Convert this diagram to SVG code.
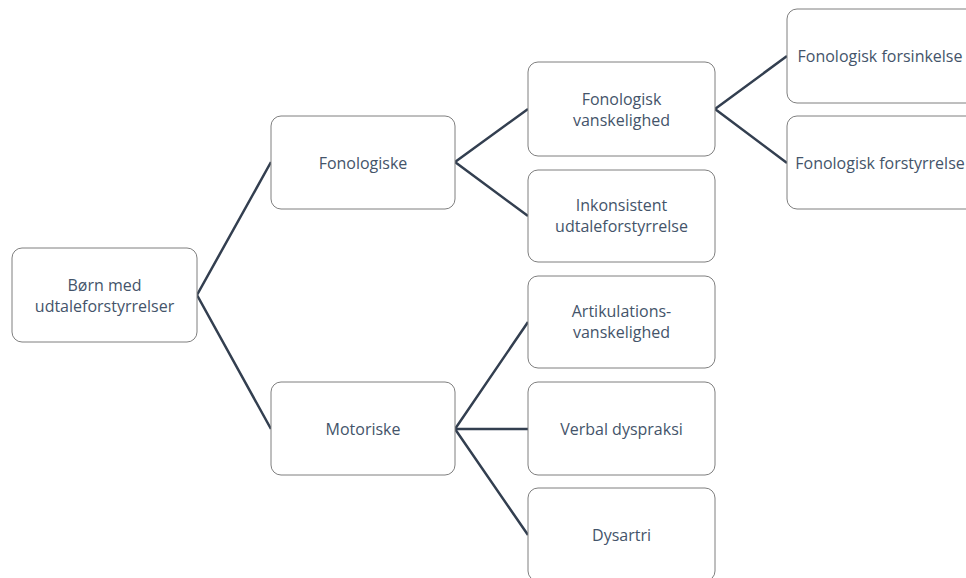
<svg xmlns="http://www.w3.org/2000/svg" width="966" height="578" viewBox="0 0 966 578">
<style>
.box{fill:#fff;stroke:#7f7f7f;stroke-width:1}
.t{font-family:"Open Sans","Noto Sans",sans-serif;font-size:16px;fill:#44546a;text-anchor:middle;dominant-baseline:central}
.c{fill:none;stroke:#333f50;stroke-width:2.5}
</style>
<rect width="966" height="578" fill="#fff"/>
<g id="connectors">
<polyline class="c" points="271,162 197,295 271,429"/>
<polyline class="c" points="528,109 455,162 528,216"/>
<polyline class="c" points="528,322 455,429 528,535"/>
<line class="c" x1="455" y1="429" x2="528" y2="429"/>
<polyline class="c" points="787,56 715,109 787,163"/>
</g>
<g id="root"><rect class="box" x="12" y="248" width="185" height="94" rx="10"/><text class="t" x="104.5" y="285">Børn med</text><text class="t" x="104.5" y="306">udtaleforstyrrelser</text></g>
<g id="fonologiske"><rect class="box" x="271" y="116" width="184" height="93" rx="10"/><text class="t" x="363" y="162.5">Fonologiske</text></g>
<g id="motoriske"><rect class="box" x="271" y="382" width="184" height="93" rx="10"/><text class="t" x="363" y="428.5">Motoriske</text></g>
<g id="fonologisk-vanskelighed"><rect class="box" x="528" y="62" width="187" height="94" rx="10"/><text class="t" x="621.5" y="99">Fonologisk</text><text class="t" x="621.5" y="120">vanskelighed</text></g>
<g id="inkonsistent"><rect class="box" x="528" y="170" width="187" height="92" rx="10"/><text class="t" x="621.5" y="205">Inkonsistent</text><text class="t" x="621.5" y="226">udtaleforstyrrelse</text></g>
<g id="artikulation"><rect class="box" x="528" y="276" width="187" height="92" rx="10"/><text class="t" x="621.5" y="311">Artikulations-</text><text class="t" x="621.5" y="332">vanskelighed</text></g>
<g id="verbal-dyspraksi"><rect class="box" x="528" y="382" width="187" height="93" rx="10"/><text class="t" x="621.5" y="428.5">Verbal dyspraksi</text></g>
<g id="dysartri"><rect class="box" x="528" y="488" width="187" height="93" rx="10"/><text class="t" x="621.5" y="535">Dysartri</text></g>
<g id="fonologisk-forsinkelse"><rect class="box" x="787" y="9" width="200" height="94" rx="10"/><text class="t" x="880" y="56">Fonologisk forsinkelse</text></g>
<g id="fonologisk-forstyrrelse"><rect class="box" x="787" y="116" width="200" height="93" rx="10"/><text class="t" x="880" y="162.5">Fonologisk forstyrrelse</text></g>
</svg>
